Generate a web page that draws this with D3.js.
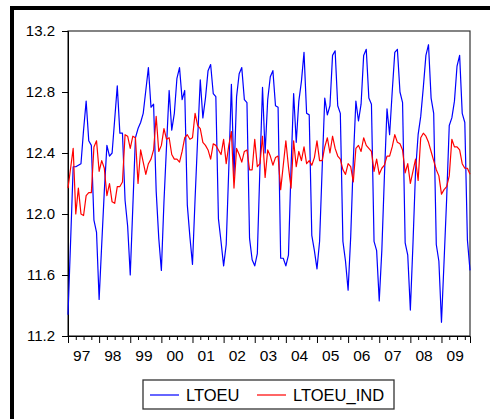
<!DOCTYPE html>
<html>
<head>
<meta charset="utf-8">
<script src="https://cdn.jsdelivr.net/npm/d3@7"></script>
<style>
  html, body { margin: 0; padding: 0; background: #fff; }
  svg { display: block; font-family: "Liberation Sans", Arial, sans-serif; }
</style>
</head>
<body>
<svg id="chart" width="490" height="419"></svg>
<script>
// Monthly data, 1997M01 - 2009M12
const yearLabels = ["97","98","99","00","01","02","03","04","05","06","07","08","09"];
const yTicks = [11.2, 11.6, 12.0, 12.4, 12.8, 13.2];
const seriesNames = ["LTOEU", "LTOEU_IND"];

const ltoeu = [
  11.34, 11.82, 12.31, 12.31, 12.32, 12.33, 12.55, 12.74, 12.48, 12.45, 11.96, 11.88,
  11.44, 11.80, 12.15, 12.45, 12.38, 12.40, 12.62, 12.84, 12.53, 12.53, 12.09, 11.92,
  11.60, 12.05, 12.50, 12.56, 12.60, 12.66, 12.81, 12.96, 12.70, 12.72, 12.15, 11.84,
  11.63, 12.08, 12.45, 12.81, 12.55, 12.66, 12.89, 12.96, 12.75, 12.81, 12.06, 11.85,
  11.67, 12.10, 12.50, 12.88, 12.63, 12.76, 12.94, 12.98, 12.79, 12.77, 11.97, 11.82,
  11.66, 11.80, 12.30, 12.85, 12.25, 12.77, 12.92, 12.96, 12.75, 12.73, 11.84, 11.70,
  11.66, 11.74, 12.30, 12.83, 12.40, 12.75, 12.90, 12.94, 12.71, 12.70, 11.71, 11.71,
  11.66, 11.73, 12.30, 12.79, 12.47, 12.74, 12.87, 13.06, 12.66, 12.65, 11.86, 11.76,
  11.64, 11.82, 12.30, 12.76, 12.65, 12.71, 13.04, 13.07, 12.71, 12.66, 11.82, 11.69,
  11.50, 11.85, 12.35, 12.74, 12.61, 12.72, 13.04, 13.08, 12.76, 12.72, 11.82, 11.76,
  11.43, 11.76, 12.25, 12.69, 12.52, 12.80, 13.06, 13.08, 12.80, 12.73, 11.81, 11.73,
  11.37, 11.80, 12.28, 12.52, 12.64, 12.83, 13.04, 13.11, 12.76, 12.66, 11.80, 11.69,
  11.29, 11.69, 12.10, 12.58, 12.63, 12.74, 12.97, 13.04, 12.66, 12.60, 11.83, 11.63
];

const ltoeuInd = [
  12.17, 12.30, 12.43, 12.00, 12.17, 12.00, 11.99, 12.12, 12.14, 12.14, 12.44, 12.48,
  12.28, 12.35, 12.30, 12.12, 12.20, 12.08, 12.07, 12.18, 12.18, 12.21, 12.52, 12.51,
  12.43, 12.51, 12.50, 12.20, 12.42, 12.34, 12.26, 12.33, 12.36, 12.42, 12.64, 12.41,
  12.45, 12.56, 12.49, 12.50, 12.39, 12.36, 12.36, 12.34, 12.41, 12.50, 12.52, 12.49,
  12.50, 12.66, 12.58, 12.56, 12.47, 12.45, 12.42, 12.36, 12.46, 12.45, 12.42, 12.39,
  12.49, 12.33, 12.45, 12.54, 12.17, 12.43, 12.39, 12.34, 12.41, 12.42, 12.29, 12.29,
  12.49, 12.31, 12.33, 12.51, 12.24, 12.42, 12.38, 12.32, 12.37, 12.38, 12.16, 12.32,
  12.48, 12.31, 12.17, 12.48, 12.31, 12.41, 12.35, 12.44, 12.33, 12.35, 12.32, 12.37,
  12.48, 12.35, 12.35, 12.44, 12.50, 12.40, 12.51, 12.43, 12.38, 12.36, 12.29, 12.26,
  12.33, 12.31, 12.21, 12.43, 12.45, 12.41, 12.50, 12.45, 12.43, 12.41, 12.28, 12.36,
  12.26, 12.30, 12.32, 12.38, 12.38, 12.44, 12.52, 12.47, 12.46, 12.42, 12.27, 12.33,
  12.20, 12.28, 12.36, 12.22, 12.50, 12.53, 12.51, 12.47, 12.41, 12.35, 12.29, 12.25,
  12.13, 12.16, 12.18, 12.25, 12.49, 12.44, 12.44, 12.42, 12.33, 12.30, 12.30, 12.26
];

const svg = d3.select("#chart");
const L = 68, R = 470, T = 31, B = 336;
const n = ltoeu.length;

const x = d3.scaleLinear().domain([0, n - 1]).range([L, R]);
const y = d3.scaleLinear().domain([11.2, 13.2]).range([B, T]);

// outer frame (thick black, cut off at right/bottom)
svg.append("rect").attr("x", 12).attr("y", 8).attr("width", 520).attr("height", 460)
  .attr("fill", "none").attr("stroke", "#000").attr("stroke-width", 4);

// plot box
svg.append("rect").attr("x", L).attr("y", T).attr("width", R - L).attr("height", B - T)
  .attr("fill", "#fff").attr("stroke", "#333").attr("stroke-width", 1.2);

// y axis
const yAxis = d3.axisLeft(y).tickValues(yTicks).tickSize(6).tickPadding(7)
  .tickFormat(d3.format(".1f"));
const gy = svg.append("g").attr("transform", `translate(${L},0)`).call(yAxis);
gy.select(".domain").attr("stroke", "#000");
gy.selectAll(".tick line").attr("stroke", "#000");
gy.selectAll(".tick text").attr("font-size", 15).attr("fill", "#000")
  .attr("font-family", "Liberation Sans, Arial, sans-serif");

// x axis: major ticks at years, minor ticks at quarters
const majors = d3.range(0, n + 1, 12);
const minors = d3.range(0, n + 1, 3).filter(d => d % 12 !== 0);
const xs = d3.scaleLinear().domain([0, n - 1]).range([L, R]);
const gxMinor = svg.append("g").attr("transform", `translate(0,${B})`)
  .call(d3.axisBottom(xs).tickValues(minors.filter(d => xs(d) <= R + 0.5)).tickSize(4).tickFormat(""));
gxMinor.select(".domain").remove();
const gxMajor = svg.append("g").attr("transform", `translate(0,${B})`)
  .call(d3.axisBottom(xs).tickValues(majors.filter(d => xs(d) <= R + 0.5)).tickSize(7).tickFormat(""));
gxMajor.select(".domain").attr("stroke", "#000");
svg.selectAll(".tick line").attr("stroke", "#000");

// year labels
svg.append("g").selectAll("text").data(yearLabels).join("text")
  .attr("x", (d, i) => x(i * 12 + 5.3))
  .attr("y", 361)
  .attr("text-anchor", "middle")
  .attr("font-size", 15.5)
  .attr("fill", "#000")
  .text(d => d);

// lines
const line = d3.line().x((d, i) => x(i)).y(d => y(d));
svg.append("path").datum(ltoeu).attr("d", line)
  .attr("fill", "none").attr("stroke", "#0000ff").attr("stroke-width", 1.2)
  .attr("stroke-linejoin", "round");
svg.append("path").datum(ltoeuInd).attr("d", line)
  .attr("fill", "none").attr("stroke", "#ff0000").attr("stroke-width", 1.2)
  .attr("stroke-linejoin", "round");

// legend
const lg = svg.append("g");
lg.append("rect").attr("x", 143).attr("y", 380).attr("width", 251).attr("height", 29)
  .attr("fill", "#fff").attr("stroke", "#333").attr("stroke-width", 1.3);
const legendItems = [
  { name: seriesNames[0], color: "#0000ff", x0: 150 },
  { name: seriesNames[1], color: "#ff0000", x0: 257 }
];
legendItems.forEach(it => {
  lg.append("line").attr("x1", it.x0).attr("x2", it.x0 + 29).attr("y1", 395).attr("y2", 395)
    .attr("stroke", it.color).attr("stroke-width", 1.2);
  lg.append("text").attr("x", it.x0 + 36).attr("y", 401).attr("font-size", 16.5)
    .attr("fill", "#000").text(it.name);
});
</script>
</body>
</html>
